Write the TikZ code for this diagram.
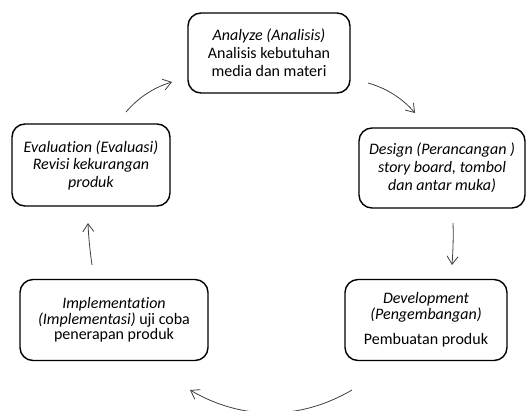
\documentclass[tikz,border=0pt]{standalone}
\usepackage{fontspec}
\setmainfont[Ligatures=NoCommon]{Carlito}
\usetikzlibrary{arrows.meta}
\begin{document}
\begin{tikzpicture}[x=1pt,y=-1pt,
  stagebox/.style={draw=black, line width=1.4pt, rounded corners=13pt, align=center,
    inner sep=0pt, font=\fontsize{16}{18}\selectfont},
  cyc/.style={draw=black!75, line width=0.8pt, -{Straight Barb[length=8pt,width=11pt]}}]
\clip (0,0) rectangle (526,410);
\fill[white] (0,0) rectangle (526,410);
\node[stagebox, minimum width=162pt, minimum height=80pt] (an) at (269,53)
  {\textit{Analyze (Analisis)}\\Analisis kebutuhan\\media dan materi};
\node[stagebox, minimum width=166pt, minimum height=80pt] (de) at (442,168)
  {\textit{Design (Perancangan )}\\\textit{story board, tombol}\\\textit{dan antar muka)}};
\node[stagebox, minimum width=162pt, minimum height=81pt, font=\fontsize{16}{15.5}\selectfont] (dv) at (426,320)
  {\textit{Development}\\\textit{(Pengembangan)}\\[10pt]Pembuatan produk};
\node[stagebox, minimum width=188pt, minimum height=81pt, font=\fontsize{16}{15.5}\selectfont] (im) at (114,320)
  {\textit{Implementation}\\\textit{(Implementasi)} uji coba\\penerapan produk};
\node[stagebox, minimum width=158pt, minimum height=82pt, font=\fontsize{16}{17.5}\selectfont] (ev) at (91,165)
  {\textit{Evaluation (Evaluasi)}\\\textit{Revisi kekurangan}\\\textit{produk}};
\coordinate (a1s) at (126,112); \coordinate (a1e) at (172,82);
\coordinate (a2s) at (368,83);  \coordinate (a2e) at (415,113);
\coordinate (a3s) at (453,223); \coordinate (a3e) at (452,265);
\coordinate (a4s) at (352,390); \coordinate (a4e) at (190,390);
\coordinate (a5s) at (92,265);  \coordinate (a5e) at (88,223);
\draw[cyc] (a1s) .. controls (138.4,97.5) and (153.7,87.5) .. (a1e);
\draw[cyc] (a2s) .. controls (386.7,88.3) and (402.3,98.3) .. (a2e);
\draw[cyc] (a3s) .. controls (453.5,237) and (453,251) .. (a3e);
\draw[cyc] (a4s) .. controls (300,420.5) and (242,420.5) .. (a4e);
\draw[cyc] (a5s) .. controls (90,251) and (88.5,237) .. (a5e);
\end{tikzpicture}
\end{document}
